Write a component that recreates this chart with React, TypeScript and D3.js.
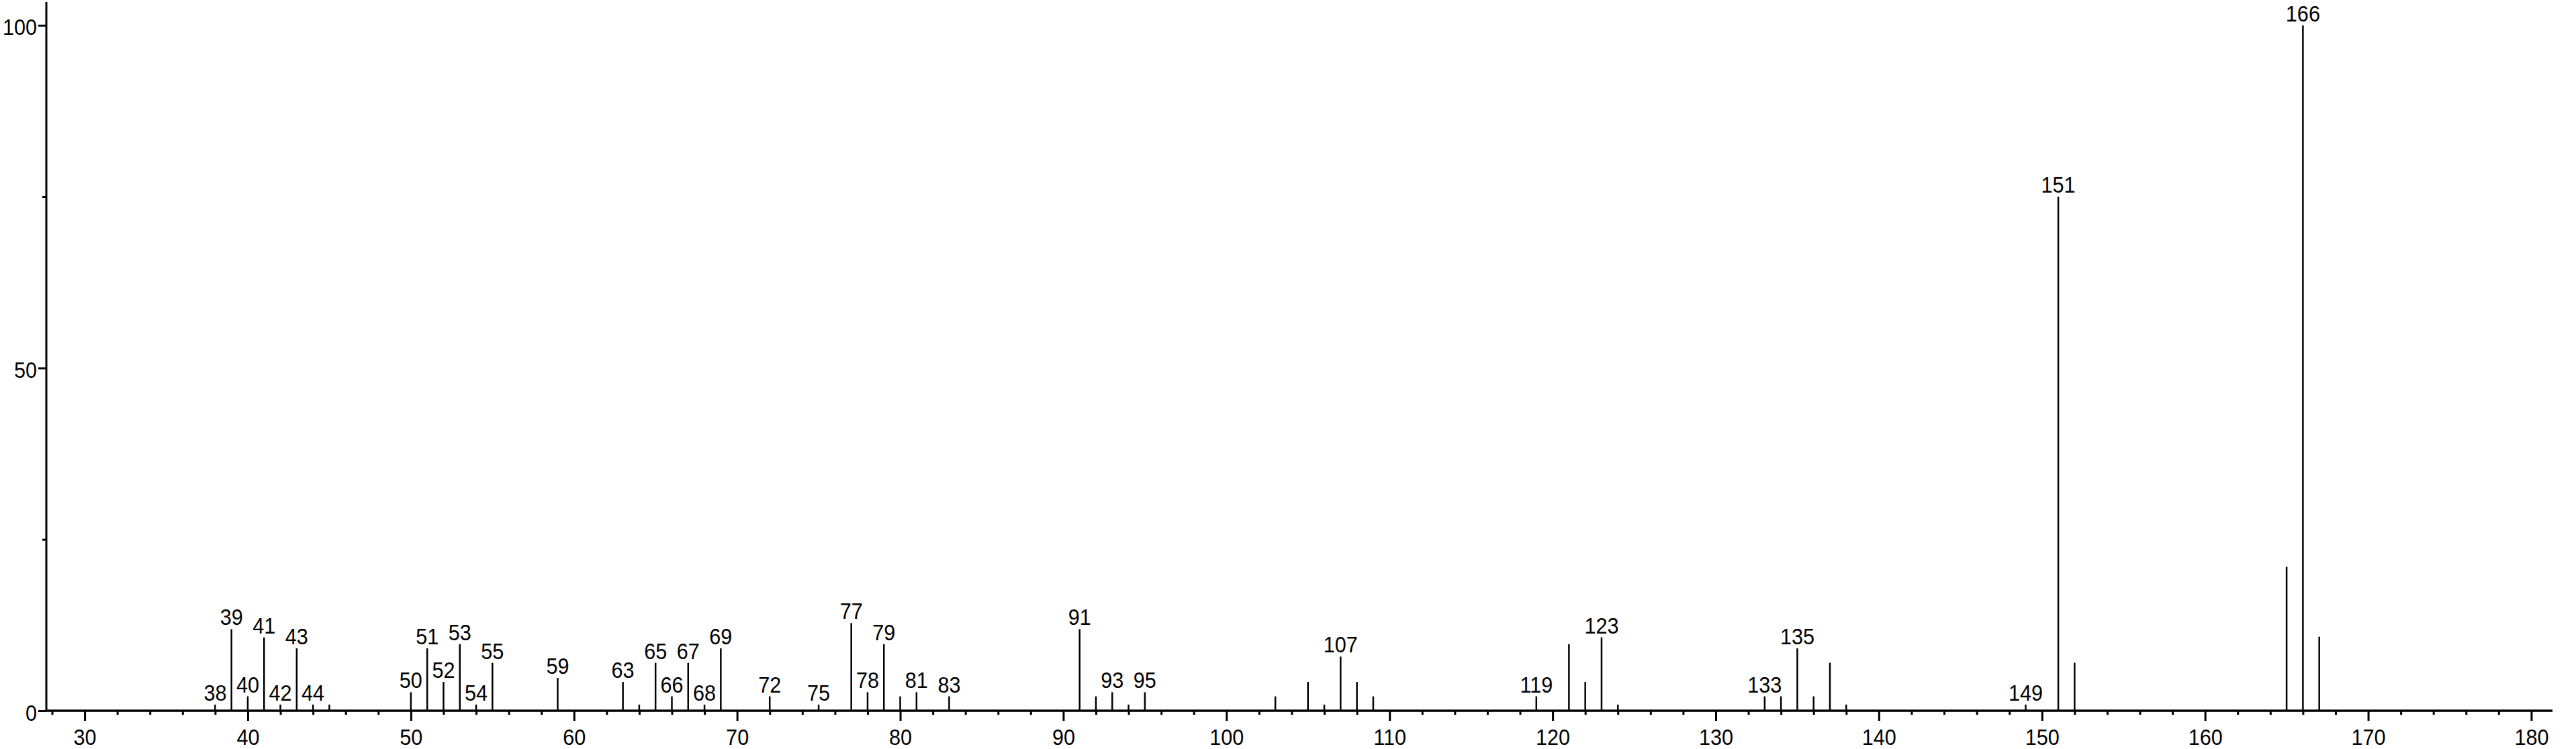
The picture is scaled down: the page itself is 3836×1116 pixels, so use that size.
import React, { useRef, useEffect } from "react";
import * as d3 from "d3";

// m/z values and relative intensities (%)
const masses = [38, 39, 40, 41, 42, 43, 44, 45, 50, 51, 52, 53, 54, 55, 59, 63, 64, 65, 66, 67, 68, 69, 72, 75, 77, 78, 79, 80, 81, 83, 91, 92, 93, 94, 95, 103, 105, 106, 107, 108, 109, 119, 121, 122, 123, 124, 133, 134, 135, 136, 137, 138, 149, 151, 152, 165, 166, 167];
const intensities = [0.9, 11.9, 2.1, 10.7, 0.9, 9.1, 0.9, 0.9, 2.7, 9.1, 4.2, 9.7, 0.9, 7.0, 4.8, 4.2, 0.9, 7.0, 2.1, 7.0, 0.9, 9.1, 2.1, 0.9, 12.8, 2.7, 9.7, 2.1, 2.7, 2.1, 11.9, 2.1, 2.7, 0.9, 2.7, 2.1, 4.2, 0.9, 7.9, 4.2, 2.1, 2.1, 9.7, 4.2, 10.7, 0.9, 2.1, 2.1, 9.1, 2.1, 7.0, 0.9, 0.9, 75.0, 7.0, 21.0, 100, 10.8];
const labeledMasses = [38, 39, 40, 41, 42, 43, 44, 50, 51, 52, 53, 54, 55, 59, 63, 65, 66, 67, 68, 69, 72, 75, 77, 78, 79, 81, 83, 91, 93, 95, 107, 119, 123, 133, 135, 149, 151, 166];
const xTicks = [30, 40, 50, 60, 70, 80, 90, 100, 110, 120, 130, 140, 150, 160, 170, 180];
const yTicks = [0, 50, 100];
const yMinorTicks = [25, 75];

const W = 3836;
const H = 1116;
const FONT = "'Liberation Sans', Arial, sans-serif";
const FS = 34;
const SQUEEZE = 0.9; // the original digits are a bit narrower than Arial

const App = () => {
    const d3Ref = useRef<SVGSVGElement>(null);

    useEffect(() => {
        const svg = d3.select(d3Ref.current);
        svg.selectAll("*").remove();

        const x = d3.scaleLinear().domain([27.65, 181.3]).range([69, 3801]);
        const y = d3.scaleLinear().domain([0, 103.4]).range([1059, 3]);

        // minor x ticks every 2
        const xMinor = d3.range(28, 182, 2).filter(v => v % 10 !== 0);

        const xAxis = d3.axisBottom(x)
            .tickValues(xTicks)
            .tickSize(15)
            .tickSizeOuter(0)
            .tickFormat(d => String(d));
        const xAxisMinor = d3.axisBottom(x)
            .tickValues(xMinor)
            .tickSize(6)
            .tickSizeOuter(0)
            .tickFormat(() => "");

        const gxm = svg.append("g").attr("transform", `translate(0,${y(0)})`).call(xAxisMinor);
        const gx = svg.append("g").attr("transform", `translate(0,${y(0)})`).call(xAxis);
        [gx, gxm].forEach(g => {
            g.select(".domain").remove();
            g.selectAll("line").attr("stroke", "#000").attr("stroke-width", 3);
        });
        gx.selectAll("text")
            .attr("font-family", FONT)
            .attr("font-size", FS)
            .attr("fill", "#000")
            .attr("dy", null)
            .attr("x", 0)
            .attr("y", 51)
            .attr("transform", `scale(${SQUEEZE},1)`);

        const yAxis = d3.axisLeft(y)
            .tickValues(yTicks)
            .tickSize(12)
            .tickSizeOuter(0)
            .tickFormat(d => String(d));
        const yAxisMinor = d3.axisLeft(y)
            .tickValues(yMinorTicks)
            .tickSize(6)
            .tickSizeOuter(0)
            .tickFormat(() => "");

        const gym = svg.append("g").attr("transform", `translate(${x.range()[0]},0)`).call(yAxisMinor);
        const gy = svg.append("g").attr("transform", `translate(${x.range()[0]},0)`).call(yAxis);
        [gy, gym].forEach(g => {
            g.select(".domain").remove();
            g.selectAll("line").attr("stroke", "#000").attr("stroke-width", 3);
        });
        gy.selectAll("text")
            .attr("font-family", FONT)
            .attr("font-size", FS)
            .attr("fill", "#000")
            .attr("dy", null)
            .attr("x", -14 / SQUEEZE)
            .attr("y", 14)
            .attr("transform", `scale(${SQUEEZE},1)`);

        // axis lines
        svg.append("line")
            .attr("x1", x.range()[0]).attr("x2", x.range()[0])
            .attr("y1", y.range()[1]).attr("y2", y(0) + 1.5)
            .attr("stroke", "#000").attr("stroke-width", 3);
        svg.append("line")
            .attr("x1", x.range()[0]).attr("x2", x.range()[1])
            .attr("y1", y(0)).attr("y2", y(0))
            .attr("stroke", "#000").attr("stroke-width", 3.5);

        const peaks = masses.map((m, i) => ({ m, v: intensities[i] }));

        svg.append("g")
            .selectAll("line")
            .data(peaks)
            .enter()
            .append("line")
            .attr("x1", d => x(d.m))
            .attr("x2", d => x(d.m))
            .attr("y1", y(0))
            .attr("y2", d => y(d.v))
            .attr("stroke", "#000")
            .attr("stroke-width", 2.5);

        svg.append("g")
            .selectAll("text")
            .data(peaks.filter(d => labeledMasses.includes(d.m)))
            .enter()
            .append("text")
            .attr("transform", d => `translate(${x(d.m)},${y(d.v) - 6}) scale(${SQUEEZE},1)`)
            .attr("text-anchor", "middle")
            .attr("font-family", FONT)
            .attr("font-size", FS)
            .attr("fill", "#000")
            .text(d => d.m);
    }, []);

    return <svg ref={d3Ref} width={W} height={H}
        style={{ position: "absolute", left: 0, top: 0, background: "#fff" }} />;
}

export default App;
